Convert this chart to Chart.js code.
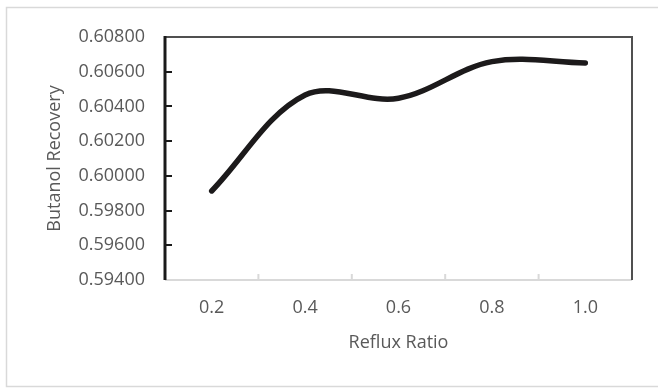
<!DOCTYPE html>
<html>
<head>
<meta charset="utf-8">
<script src="https://cdn.jsdelivr.net/npm/chart.js@4/dist/chart.umd.min.js"></script>
<style>
html,body{margin:0;padding:0;background:#fff;}
#wrap{width:658px;height:389px;position:relative;}
</style>
</head>
<body>
<div id="wrap"><canvas id="c" width="658" height="389"></canvas></div>
<script>
const categories = ["0.2", "0.4", "0.6", "0.8", "1.0"];
const recovery = [0.59913, 0.60466, 0.60447, 0.60658, 0.60650];
const yMin = 0.594, yMax = 0.608, yStep = 0.002;
const xTitle = "Reflux Ratio";
const yTitle = "Butanol Recovery";

const FONT = "'Open Sans', 'Liberation Sans', sans-serif";
const TXT = "#595959";

const framePlugin = {
  id: 'frame',
  beforeDraw(chart) {
    const ctx = chart.ctx;
    ctx.save();
    ctx.strokeStyle = '#d9d9d9';
    ctx.lineWidth = 1.5;
    ctx.strokeRect(6.5, 7.5, 700, 379);
    ctx.restore();
  },
  afterDatasetsDraw(chart) {
    const ctx = chart.ctx;
    const a = chart.chartArea;
    const ys = chart.scales.y, xs = chart.scales.x;
    ctx.save();
    ctx.strokeStyle = '#d9d9d9';
    ctx.lineWidth = 2;
    ctx.beginPath(); ctx.moveTo(a.left, a.bottom); ctx.lineTo(a.right, a.bottom); ctx.stroke();
    const n = categories.length;
    const w = xs.getPixelForTick(1) - xs.getPixelForTick(0);
    for (let i = 0; i <= n; i++) {
      const px = i < n ? xs.getPixelForTick(i) - w / 2 : xs.getPixelForTick(n - 1) + w / 2;
      ctx.beginPath(); ctx.moveTo(px, a.bottom); ctx.lineTo(px, a.bottom - 6); ctx.stroke();
    }
    ctx.strokeStyle = '#505050';
    ctx.lineWidth = 2;
    ctx.beginPath(); ctx.moveTo(a.left, a.top); ctx.lineTo(a.right, a.top); ctx.lineTo(a.right, a.bottom); ctx.stroke();
    ctx.strokeStyle = '#1a1a1a';
    ctx.lineWidth = 3;
    ctx.beginPath(); ctx.moveTo(a.left, a.top - 1); ctx.lineTo(a.left, a.bottom); ctx.stroke();
    ctx.lineWidth = 2;
    for (let v = yMin + yStep; v < yMax - 1e-9; v += yStep) {
      const py = Math.round(ys.getPixelForValue(v));
      ctx.beginPath(); ctx.moveTo(a.left, py); ctx.lineTo(a.left + 7, py); ctx.stroke();
    }
    ctx.restore();
  }
};

new Chart(document.getElementById('c'), {
  type: 'line',
  data: {
    labels: categories,
    datasets: [{
      data: recovery,
      borderColor: '#1c1a1b',
      borderWidth: 5.5,
      borderCapStyle: 'round',
      borderJoinStyle: 'round',
      tension: 0.35,
      pointRadius: 0,
      fill: false
    }]
  },
  options: {
    responsive: false,
    animation: false,
    events: [],
    layout: { padding: { left: 0, right: 26, top: 37, bottom: 0 } },
    plugins: { legend: { display: false }, tooltip: { enabled: false } },
    scales: {
      x: {
        offset: true,
        grid: { display: false, drawTicks: false },
        border: { display: false },
        ticks: { color: TXT, font: { family: FONT, size: 18 }, padding: 17, maxRotation: 0 },
        title: { display: true, text: xTitle, color: TXT, font: { family: FONT, size: 18 }, padding: { top: 0, bottom: 35 } },
        afterFit(s) { s.height = 109; }
      },
      y: {
        min: yMin, max: yMax,
        grid: { display: false, drawTicks: false },
        border: { display: false },
        ticks: {
          stepSize: yStep,
          color: TXT, font: { family: FONT, size: 18 }, padding: 20,
          callback: v => Number(v).toFixed(5)
        },
        title: { display: true, text: yTitle, color: TXT, font: { family: FONT, size: 18 }, padding: { top: 44, bottom: 0 } },
        afterFit(s) { s.width = 165; }
      }
    }
  },
  plugins: [framePlugin]
});
</script>
</body>
</html>
